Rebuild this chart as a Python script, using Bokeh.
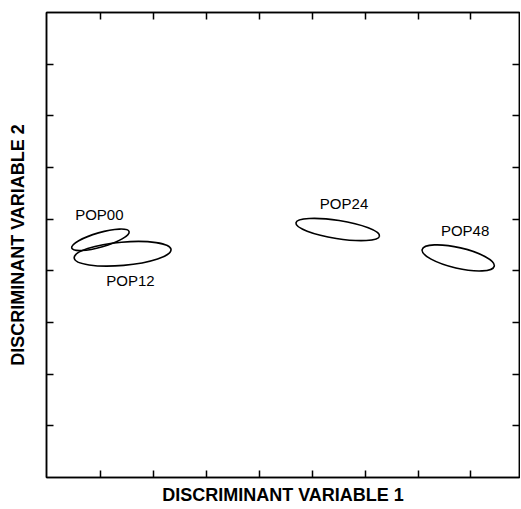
from bokeh.plotting import figure
from bokeh.models import LinearAxis, FixedTicker, Range1d, ColumnDataSource, CustomJSTickFormatter
from bokeh.core.properties import value
from bokeh.embed import file_html
from bokeh.resources import INLINE

# ---- data ----
groups = ["POP00", "POP12", "POP24", "POP48"]
center_x = [0.99, 1.41, 5.48, 7.76]
center_y = [4.60, 4.33, 4.80, 4.25]
major_len = [1.13, 1.84, 1.60, 1.40]
minor_len = [0.28, 0.45, 0.35, 0.40]
angle_deg = [16, 5, -9, -13]
label_x = [0.97, 1.56, 5.60, 7.89]
label_y = [5.09, 3.82, 5.30, 4.79]
x_ticks = [1, 2, 3, 4, 5, 6, 7, 8]
y_ticks = [1, 2, 3, 4, 5, 6, 7, 8]
x_title = "DISCRIMINANT VARIABLE 1"
y_title = "DISCRIMINANT VARIABLE 2"

FONT = "Liberation Sans"

p = figure(width=520, height=507,
           x_range=Range1d(-0.03, 8.92), y_range=Range1d(0, 9.0),
           output_backend="svg", toolbar_location=None,
           min_border_left=46, min_border_top=12, min_border_right=1,
           min_border_bottom=29)
p.grid.visible = False
p.outline_line_color = "black"
p.outline_line_width = 1.5
p.background_fill_color = "white"
p.border_fill_color = "white"

def style_axis(ax, ticks):
    ax.ticker = FixedTicker(ticks=ticks)
    ax.formatter = CustomJSTickFormatter(code="return ''")
    ax.major_tick_in = 7
    ax.major_tick_out = 0
    ax.minor_tick_line_color = None
    ax.major_label_standoff = 0
    ax.axis_line_color = "black"
    ax.axis_line_width = 1.5
    ax.major_tick_line_color = "black"
    ax.major_tick_line_width = 1.5

style_axis(p.xaxis[0], x_ticks)
style_axis(p.yaxis[0], y_ticks)

p.xaxis[0].axis_label = x_title
p.yaxis[0].axis_label = y_title
for ax in (p.xaxis[0], p.yaxis[0]):
    ax.axis_label_text_font = FONT
    ax.axis_label_text_font_style = "bold"
    ax.axis_label_text_font_size = "18px"
    ax.axis_label_text_color = "black"
p.xaxis[0].axis_label_standoff = 7
p.yaxis[0].axis_label_standoff = 19

top = LinearAxis()
style_axis(top, x_ticks)
p.add_layout(top, "above")
right = LinearAxis()
style_axis(right, y_ticks)
p.add_layout(right, "right")

src = ColumnDataSource(dict(x=center_x, y=center_y, w=major_len, h=minor_len,
                            a=angle_deg))
p.ellipse(x="x", y="y", width="w", height="h", angle="a", angle_units="deg",
          source=src, fill_color=None, line_color="black", line_width=1.6)

lsrc = ColumnDataSource(dict(x=label_x, y=label_y, t=groups))
p.text(x="x", y="y", text="t", source=lsrc, text_font=value(FONT),
       text_font_size="15px", text_align="center", text_baseline="middle",
       text_color="black")

open("out.html", "w").write(file_html(p, INLINE))
